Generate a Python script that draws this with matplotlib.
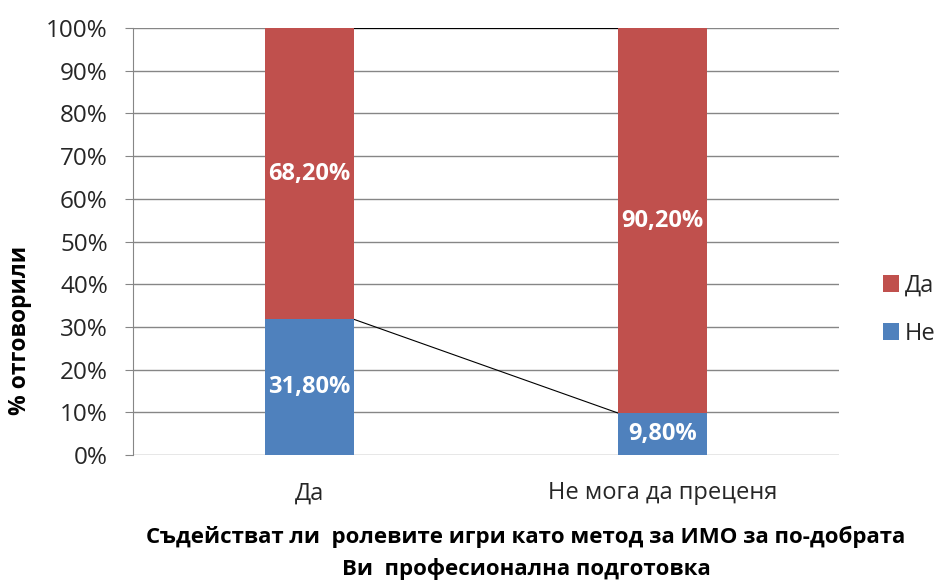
import matplotlib
matplotlib.use("Agg")
import matplotlib.pyplot as plt
from matplotlib.ticker import PercentFormatter

plt.rcParams['font.family'] = ['Open Sans', 'DejaVu Sans']

# data
categories = ["Да", "Не мога да преценя"]
series_names = ["Не", "Да"]
ne_values = [31.8, 9.8]
da_values = [68.2, 90.2]
colors = ["#4f81bd", "#c0504d"]

fig = plt.figure(figsize=(9.39, 5.82), dpi=100)
ax = fig.add_axes([0.1416, 0.2182, 0.7519, 0.7337])

x = list(range(len(categories)))
width = 0.25
bars_ne = ax.bar(x, ne_values, width, color=colors[0], label=series_names[0], zorder=3)
bars_da = ax.bar(x, da_values, width, bottom=ne_values, color=colors[1],
                 label=series_names[1], zorder=3)

# series lines between the bars
tops = [n + d for n, d in zip(ne_values, da_values)]
ax.plot([x[0] + width / 2, x[1] - width / 2], [ne_values[0], ne_values[1]],
        color="black", lw=0.8, zorder=2)
ax.plot([x[0] + width / 2, x[1] - width / 2], [tops[0], tops[1]],
        color="black", lw=0.8, zorder=2)

# data labels
for i in x:
    ax.text(i, ne_values[i] / 2, f"{ne_values[i]:.2f}%".replace(".", ","),
            ha="center", va="center", color="white", fontsize=17, fontweight="bold", zorder=4)
    ax.text(i, ne_values[i] + da_values[i] / 2, f"{da_values[i]:.2f}%".replace(".", ","),
            ha="center", va="center", color="white", fontsize=17, fontweight="bold", zorder=4)

ax.set_xlim(-0.5, 1.5)
ax.set_ylim(0, 100)
ax.set_yticks(range(0, 101, 10))
ax.yaxis.set_major_formatter(PercentFormatter(decimals=0))
ax.set_xticks(x)
ax.set_xticklabels(categories)
ax.grid(axis="y", color="#868686", lw=1, zorder=0)
for s in ["top", "right", "bottom"]:
    ax.spines[s].set_visible(False)
ax.spines["left"].set_color("#868686")
ax.tick_params(axis="y", length=6, pad=12, color="#868686", labelsize=17.5, labelcolor="#262626")
ax.tick_params(axis="x", length=0, labelsize=17, pad=19, labelcolor="#262626")

fig.text(20 / 939, 1 - 330 / 582, "% отговорили", rotation=90, ha="center", va="center",
         fontsize=16.5, fontweight="bold", color="black")
fig.text(526 / 939, 1 - 553 / 582,
         "Съдействат ли  ролевите игри като метод за ИМО за по-добрата\nВи  професионална подготовка",
         ha="center", va="center", fontsize=16, fontweight="bold", color="black", linespacing=1.6)

handles = [bars_da, bars_ne]
ax.legend(handles, ["Да", "Не"], loc="center left", bbox_to_anchor=(1.062, 0.34),
          borderaxespad=0, borderpad=0, frameon=False, fontsize=17,
          handlelength=0.7, handleheight=0.7, handletextpad=0.25, labelspacing=1.0,
          labelcolor="#262626")

fig.savefig("out.png", dpi=100)
